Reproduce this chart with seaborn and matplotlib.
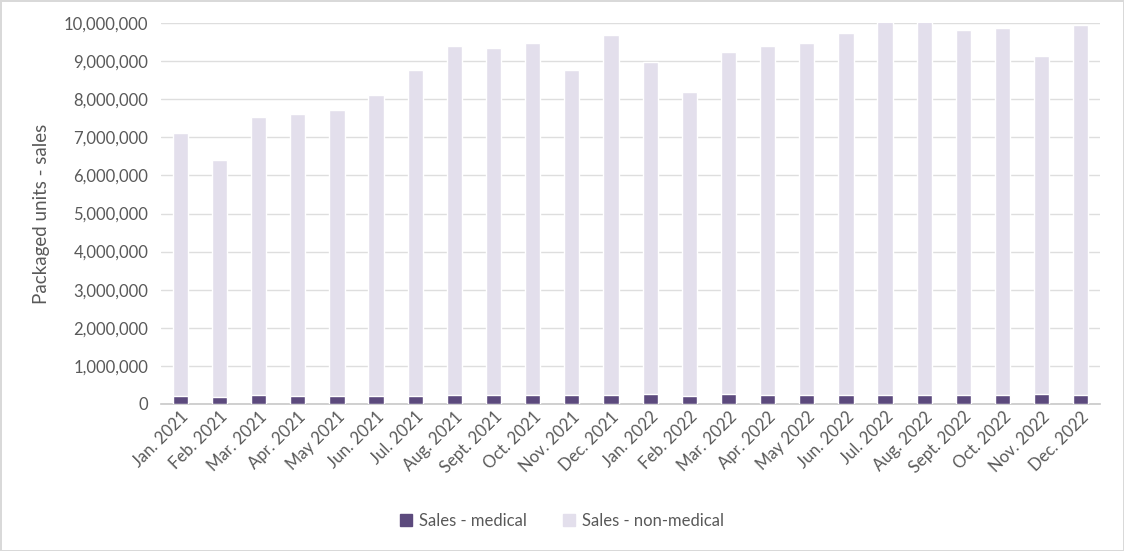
import numpy as np
import pandas as pd
import seaborn as sns
import matplotlib.pyplot as plt
from matplotlib.patches import Patch
from matplotlib.ticker import FuncFormatter

months = ["Jan. 2021", "Feb. 2021", "Mar. 2021", "Apr. 2021", "May 2021", "Jun. 2021",
          "Jul. 2021", "Aug. 2021", "Sept. 2021", "Oct. 2021", "Nov. 2021", "Dec. 2021",
          "Jan. 2022", "Feb. 2022", "Mar. 2022", "Apr. 2022", "May 2022", "Jun. 2022",
          "Jul. 2022", "Aug. 2022", "Sept. 2022", "Oct. 2022", "Nov. 2022", "Dec. 2022"]
medical = [200000, 180000, 230000, 210000, 210000, 210000, 210000, 230000, 230000, 230000,
           230000, 230000, 260000, 200000, 260000, 230000, 230000, 230000, 230000, 230000,
           230000, 230000, 260000, 230000]
non_medical = [6910000, 6220000, 7300000, 7400000, 7510000, 7910000, 8560000, 9170000,
               9120000, 9250000, 8540000, 9460000, 8720000, 7990000, 8980000, 9170000,
               9250000, 9510000, 9870000, 9870000, 9590000, 9640000, 8880000, 9720000]

df = pd.DataFrame({"month": months, "medical": medical, "non_medical": non_medical})
df["total"] = df["medical"] + df["non_medical"]

dark = "#5C4A7D"
light = "#E3DFEC"
grey = "#595959"

sns.set_theme(style="white")
plt.rcParams["font.family"] = ["Lato", "DejaVu Sans"]

fig = plt.figure(figsize=(11.24, 5.51), dpi=100)
fig.patch.set_edgecolor("#D9D9D9")
fig.patch.set_linewidth(2)
ax = fig.add_axes([0.143, 0.267, 0.836, 0.691])

# stacked: draw totals in light colour, medical part on top of it in dark
sns.barplot(data=df, x="month", y="total", color=light, width=0.39, saturation=1, ax=ax, zorder=2)
sns.barplot(data=df, x="month", y="medical", color=dark, width=0.39, saturation=1, ax=ax, zorder=3)

ax.set_ylim(0, 10000000)
ax.set_yticks(np.arange(0, 10000001, 1000000))
ax.yaxis.set_major_formatter(FuncFormatter(lambda v, p: f"{int(v):,}"))
ax.set_xlim(-0.5, len(months) - 0.5)
ax.grid(axis="y", color="#DEDEDE", linewidth=1, zorder=0)
ax.set_axisbelow(True)
for s in ["top", "right", "left"]:
    ax.spines[s].set_visible(False)
ax.spines["bottom"].set_color("#C8C8C8")
ax.spines["bottom"].set_linewidth(1.2)
ax.tick_params(axis="both", length=0, colors=grey, labelsize=12)
ax.tick_params(axis="y", pad=9)
plt.setp(ax.get_xticklabels(), rotation=45, ha="right", rotation_mode="anchor")
ax.set_xlabel("")
ax.set_ylabel("Packaged units - sales", fontsize=13.5, color=grey, labelpad=10)

handles = [Patch(color=dark, label="Sales - medical"), Patch(color=light, label="Sales - non-medical")]
fig.legend(handles=handles, loc="center", bbox_to_anchor=(0.5, 0.055), ncol=2, frameon=False,
           fontsize=12, labelcolor=grey, handlelength=0.7, handleheight=0.7, columnspacing=2.2,
           handletextpad=0.4)

fig.savefig("out.png", dpi=100)
